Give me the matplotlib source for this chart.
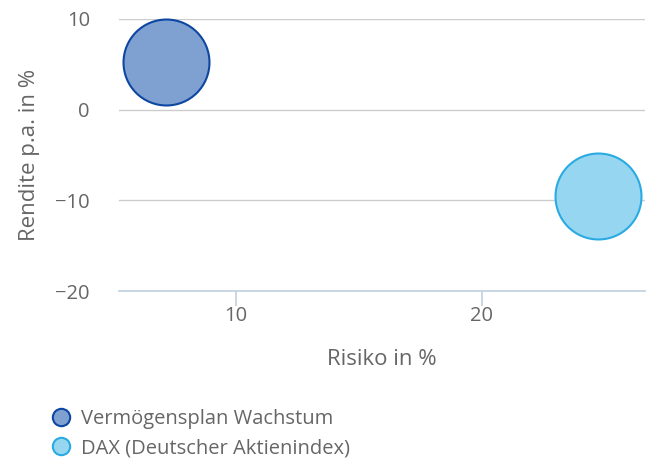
import matplotlib.pyplot as plt
from matplotlib.lines import Line2D

# -------------------------------------------------
# Data
# -------------------------------------------------
series_names = ["Vermögensplan Wachstum", "DAX (Deutscher Aktienindex)"]
risk = [7.15, 24.7]
returns = [5.3, -9.5]
fill_colors = ["#7fa1d1", "#96d6f1"]
edge_colors = ["#0d47a1", "#29abe2"]

x_ticks = [10, 20]
y_ticks = [-20, -10, 0, 10]
y_tick_labels = ["\u221220", "\u221210", "0", "10"]

text_color = "#666666"
plt.rcParams['font.family'] = ['Open Sans', 'DejaVu Sans']

# -------------------------------------------------
# Figure
# -------------------------------------------------
fig = plt.figure(figsize=(6.49, 4.65), dpi=100)
ax = fig.add_axes([119 / 649, 1 - 291 / 465, 526 / 649, 272 / 465])

for i in range(len(series_names)):
    ax.scatter(risk[i], returns[i], s=3830, c=fill_colors[i],
               edgecolors=edge_colors[i], linewidths=1.5, zorder=3,
               clip_on=False)

ax.set_xlim(5.24, 26.63)
ax.set_ylim(-20, 10)
ax.set_xticks(x_ticks)
ax.set_yticks(y_ticks)
ax.set_yticklabels(y_tick_labels)

ax.grid(axis='y', color='#cccccc', linewidth=1, zorder=0)
ax.set_axisbelow(True)

for side in ['top', 'right', 'left']:
    ax.spines[side].set_visible(False)
ax.spines['bottom'].set_color('#c0d0e0')
ax.spines['bottom'].set_linewidth(1.2)

ax.tick_params(axis='x', colors='#c0d0e0', length=11, width=1.2,
               labelcolor=text_color, labelsize=14.5, pad=0)
ax.tick_params(axis='y', length=0, labelcolor=text_color, labelsize=14.5,
               pad=21)

ax.set_xlabel("Risiko in %", color=text_color, fontsize=16, labelpad=16)
ax.set_ylabel("Rendite p.a. in %", color=text_color, fontsize=16,
              labelpad=11)

# -------------------------------------------------
# Legend
# -------------------------------------------------
handles = [
    Line2D([], [], marker='o', linestyle='none', markersize=12.5,
           markerfacecolor=fill_colors[i], markeredgecolor=edge_colors[i],
           markeredgewidth=1.5)
    for i in range(len(series_names))
]
fig.legend(handles, series_names, loc='upper left',
           bbox_to_anchor=(50 / 649, 1 - 409 / 465), frameon=False,
           borderpad=0, borderaxespad=0,
           fontsize=14.5, labelcolor=text_color, handletextpad=0.45,
           labelspacing=0.45, handlelength=1.1)

plt.savefig("out.png", dpi=100)
